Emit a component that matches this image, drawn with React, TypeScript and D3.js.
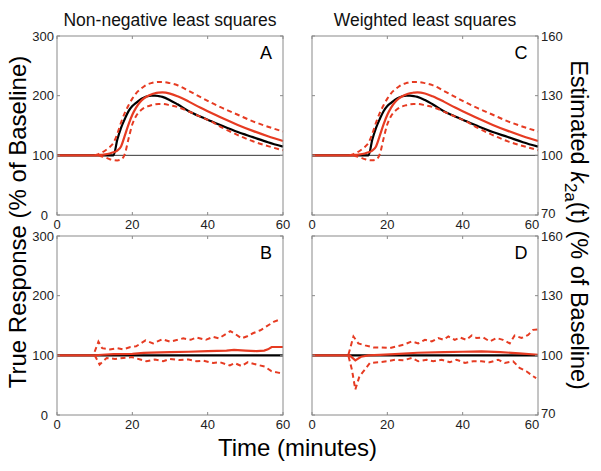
import React from 'react';
import * as d3 from 'd3';

// time axis shared by all panels
const timeTicks = [0, 20, 40, 60];
const leftTicks = [0, 100, 200, 300];
const rightTicks = [70, 100, 130, 160];

// A: non-negative least squares, large response
const tTrueA = [0, 15, 16, 17, 18, 19, 20, 21, 22, 23, 24, 25, 26, 27, 28, 30, 32, 35, 38, 41, 44, 48, 52, 56, 60];
const trueA = [100, 100, 126, 146, 161, 174, 182.5, 188, 193, 196.5, 199, 200, 200, 199.3, 198, 192.5, 185.5, 174, 165, 157, 149, 139, 130.5, 122, 114.5];
const tMeanA = [0, 10.5, 12, 14, 15, 16, 17, 18, 19, 20, 21, 22, 23, 24, 25, 26, 27, 28, 30, 32, 35, 38, 41, 44, 48, 52, 56, 60];
const meanA = [100, 100, 101, 103, 105, 108, 115, 133, 152, 168, 180, 189, 195, 199, 202, 204, 205, 205.5, 203.5, 199, 190, 180, 171, 162, 151, 141, 132, 124];
const tUpperA = [10, 11, 12, 13, 14, 15, 16, 17, 18, 19, 20, 21, 22, 23, 24, 25, 26, 27, 28, 30, 32, 35, 38, 41, 44, 48, 52, 56, 60];
const upperA = [100, 102, 105, 109, 114, 121, 136, 155, 171, 184, 195, 204, 210, 215, 219, 221, 222.5, 223, 223, 221, 217.5, 208, 198, 188, 179, 168, 157, 148, 140];
const tLowerA = [11, 12, 13, 14, 15, 16, 17, 18, 19, 20, 21, 22, 23, 24, 25, 26, 27, 28, 30, 32, 35, 38, 41, 44, 48, 52, 56, 60];
const lowerA = [100, 98, 96, 93.5, 92, 91.5, 93, 102, 128, 152, 166, 174, 179, 182, 184, 185.5, 186, 186, 184, 181, 173.5, 165, 156.5, 146, 134, 123.5, 115.5, 108.5];

// C: weighted least squares, large response (k2a scale)
const trueC = [100, 100, 107.8, 113.8, 118.3, 122.2, 124.8, 126.4, 127.9, 129, 129.7, 130, 130, 129.8, 129.4, 127.8, 125.7, 122.2, 119.5, 117.1, 114.7, 111.7, 109.2, 106.6, 104.4];
const meanC = [100, 100, 100.3, 100.9, 101.5, 102.4, 104.5, 109.9, 115.6, 120.4, 124, 126.7, 128.5, 129.7, 130.6, 131.2, 131.5, 131.7, 131.1, 129.7, 127, 124, 121.3, 118.6, 115.3, 112.3, 109.6, 107.2];
const upperC = [100, 100.6, 101.5, 102.7, 104.2, 106.3, 110.8, 116.5, 121.3, 125.2, 128.5, 131.2, 133, 134.5, 135.7, 136.3, 136.8, 136.9, 136.9, 136.3, 135.3, 132.4, 129.4, 126.4, 123.7, 120.4, 117.1, 114.4, 112];
const lowerC = [100, 99.4, 98.8, 98.1, 97.6, 97.5, 97.9, 100.6, 108.4, 115.6, 119.8, 122.2, 123.7, 124.6, 125.2, 125.7, 125.8, 125.8, 125.2, 124.3, 122, 119.5, 117, 113.8, 110.2, 107, 104.7, 102.6];

// B: non-negative least squares, no response
const tFlat = [0, 60];
const flat = [100, 100];
const tMeanB = [0, 10, 12, 15, 20, 23, 25, 30, 35, 40, 45, 47, 50, 53, 55, 56, 57, 60];
const meanB = [100, 100, 101, 102, 102.5, 104, 104.5, 105.5, 106, 107, 108, 109, 108, 107, 108, 110, 114, 114];
const tUpperB = [10, 11, 12, 14, 16, 17.5, 19.5, 21, 23.5, 25.5, 28, 30, 32, 33.5, 35.5, 37, 39.5, 41.5, 43, 46, 47, 49, 50.5, 52, 54, 55.5, 57.5, 59.5];
const upperB = [106, 123, 112, 110, 112, 110, 114, 115, 125, 120, 127, 123, 126, 128.5, 126, 130, 126, 131, 128.5, 140.5, 137, 128.5, 132, 137, 142, 148, 156, 161];
const tLowerB = [10, 10.6, 11.3, 13.2, 15.4, 17.6, 19.9, 22.1, 23.8, 26, 28.2, 30, 32.6, 34.9, 37.1, 38.8, 41.5, 43.2, 45.9, 47.2, 49, 50.7, 52.9, 55.2, 56.9, 58.7, 60];
const lowerB = [100, 93, 84.6, 95.6, 94, 95.6, 97, 93, 90, 93, 90, 94, 92, 93, 90, 91, 87, 88.5, 83, 87, 82, 88.5, 84.6, 81, 73.6, 71, 69];

// D: weighted least squares, no response
const tMeanD = [0, 10, 11.5, 13, 15, 18, 22, 28, 35, 40, 45, 50, 55, 60];
const meanD = [100, 100, 97.5, 99.3, 100, 100.2, 100.6, 101.3, 101.6, 101.8, 102, 101.6, 101, 100.3];
const tUpperD = [9.7, 11, 12.3, 14.1, 16.3, 18.5, 20.7, 22.5, 24.3, 26.5, 28.2, 30, 31.8, 33.5, 34.9, 36.2, 37.9, 39.3, 41, 42.4, 43.7, 45.4, 47.2, 49, 50.7, 52.5, 53.8, 55.6, 57.4, 58.7, 60];
const upperD = [100.5, 109.5, 106, 105, 104, 104, 103.7, 104.5, 105.3, 107, 106, 107.8, 107, 108.7, 107.8, 109.5, 107.8, 109, 107.8, 110, 108.7, 109, 107, 108.7, 107.8, 106, 110, 108.7, 110.3, 112.8, 113];
const tLowerD = [9.7, 10.6, 11.5, 12.6, 13.7, 15.4, 17.6, 19.9, 22.1, 24.3, 26.5, 28.2, 30.4, 32.2, 34.4, 36.6, 38.4, 40.6, 42.8, 45, 47.2, 49.4, 51.2, 53.4, 55.1, 56.9, 58.7, 59.5];
const lowerD = [99.5, 92.8, 82.8, 89.5, 92, 96.2, 96.5, 97, 97.8, 97.5, 98.7, 97, 97.8, 97, 97.8, 96.5, 97.8, 96.2, 97, 97, 96.5, 97.8, 96.2, 97, 93.7, 92, 89.5, 88.5];

const RED = '#e63b22';
const FONT = '"Liberation Sans", Arial, Helvetica, sans-serif';

type Series = { t: number[]; v: number[]; kind: 'true' | 'mean' | 'band' };

const Panel = ({ x0, x1, y0, y1, domain, ticks, side, label, series, smooth, baseline }: any) => {
  const x = d3.scaleLinear().domain([0, 60]).range([x0, x1]);
  const y = d3.scaleLinear().domain(domain).range([y1, y0]);
  const curve = smooth ? d3.curveMonotoneX : d3.curveLinear;
  const path = (s: Series) =>
    d3.line<number>().x((d, i) => x(s.t[i])).y((d) => y(d)).curve(curve)(s.v) || '';
  const style = (s: Series) => {
    if (s.kind === 'true') return { stroke: '#000', strokeWidth: 2.2 };
    if (s.kind === 'mean') return { stroke: RED, strokeWidth: 2.2 };
    return { stroke: RED, strokeWidth: 2, strokeDasharray: '5,3.5' };
  };
  return (
    <g>
      {baseline && <line x1={x0} x2={x1} y1={y(100)} y2={y(100)} stroke="#000" strokeWidth={0.8} />}
      {series.map((s: Series, i: number) => (
        <path key={i} d={path(s)} fill="none" {...style(s)} />
      ))}
      <rect x={x0} y={y0} width={x1 - x0} height={y1 - y0} fill="none" stroke="#8a8a8a" strokeWidth={1} />
      {timeTicks.map((t) => (
        <g key={'x' + t}>
          <line x1={x(t)} x2={x(t)} y1={y1} y2={y1 - 3} stroke="#8a8a8a" />
          <line x1={x(t)} x2={x(t)} y1={y0} y2={y0 + 3} stroke="#8a8a8a" />
          <text x={side === 'right' && t === 60 ? x(t) - 6 : x(t)} y={y1 + 14} textAnchor="middle" fontSize={13} fill="#222" fontFamily={FONT}>{t}</text>
        </g>
      ))}
      {ticks.map((v: number) => (
        <g key={'y' + v}>
          <line x1={x0} x2={x0 + 3} y1={y(v)} y2={y(v)} stroke="#8a8a8a" />
          <line x1={x1} x2={x1 - 3} y1={y(v)} y2={y(v)} stroke="#8a8a8a" />
          {side === 'left' ? (
            <text x={v === 0 ? x0 - 9 : x0 - 3} y={y(v) + 4.5} textAnchor="end" fontSize={13} fill="#222" fontFamily={FONT}>{v}</text>
          ) : (
            <text x={x1 + 3} y={v === 70 ? y(v) + 2.5 : y(v) + 4.5} textAnchor="start" fontSize={13} fill="#222" fontFamily={FONT}>{v}</text>
          )}
        </g>
      ))}
      <text x={x1 - 17} y={y0 + 22.5} textAnchor="middle" fontSize={18} fill="#000" fontFamily={FONT}>{label}</text>
    </g>
  );
};

export default function App() {
  const W = 601;
  const H = 471;
  const top = { y0: 36, y1: 215 };
  const bot = { y0: 236, y1: 415 };
  const left = { x0: 57, x1: 283 };
  const right = { x0: 312, x1: 538 };

  const seriesA: Series[] = [
    { t: tTrueA, v: trueA, kind: 'true' },
    { t: tMeanA, v: meanA, kind: 'mean' },
    { t: tUpperA, v: upperA, kind: 'band' },
    { t: tLowerA, v: lowerA, kind: 'band' },
  ];
  const seriesC: Series[] = [
    { t: tTrueA, v: trueC, kind: 'true' },
    { t: tMeanA, v: meanC, kind: 'mean' },
    { t: tUpperA, v: upperC, kind: 'band' },
    { t: tLowerA, v: lowerC, kind: 'band' },
  ];
  const seriesB: Series[] = [
    { t: tFlat, v: flat, kind: 'true' },
    { t: tMeanB, v: meanB, kind: 'mean' },
    { t: tUpperB, v: upperB, kind: 'band' },
    { t: tLowerB, v: lowerB, kind: 'band' },
  ];
  const seriesD: Series[] = [
    { t: tFlat, v: flat, kind: 'true' },
    { t: tMeanD, v: meanD, kind: 'mean' },
    { t: tUpperD, v: upperD, kind: 'band' },
    { t: tLowerD, v: lowerD, kind: 'band' },
  ];

  return (
    <svg width={W} height={H} style={{ position: 'absolute', left: 0, top: 0, background: '#fff' }}>
      <rect width={W} height={H} fill="#fff" />
      <text x={170} y={26} textAnchor="middle" fontSize={17.5} fontFamily={FONT} fill="#111">Non-negative least squares</text>
      <text x={425} y={26} textAnchor="middle" fontSize={17.5} fontFamily={FONT} fill="#111">Weighted least squares</text>

      <Panel {...left} {...top} domain={[0, 300]} ticks={leftTicks} side="left" label="A" series={seriesA} smooth baseline />
      <Panel {...right} {...top} domain={[70, 160]} ticks={rightTicks} side="right" label="C" series={seriesC} smooth baseline />
      <Panel {...left} {...bot} domain={[0, 300]} ticks={leftTicks} side="left" label="B" series={seriesB} />
      <Panel {...right} {...bot} domain={[70, 160]} ticks={rightTicks} side="right" label="D" series={seriesD} />

      <text transform="translate(25.5,222) rotate(-90)" textAnchor="middle" fontSize={24} fontFamily={FONT} fill="#000">
        True Response (% of Baseline)
      </text>
      <text transform="translate(571,225) rotate(90)" textAnchor="middle" fontSize={23.5} fontFamily={FONT} fill="#000">
        Estimated <tspan fontStyle="italic">k</tspan>
        <tspan fontSize={17} dy={6}>2a</tspan>
        <tspan dy={-6}>(t) (% of Baseline)</tspan>
      </text>
      <text x={297.5} y={456} textAnchor="middle" fontSize={24} fontFamily={FONT} fill="#000">Time (minutes)</text>
    </svg>
  );
}
